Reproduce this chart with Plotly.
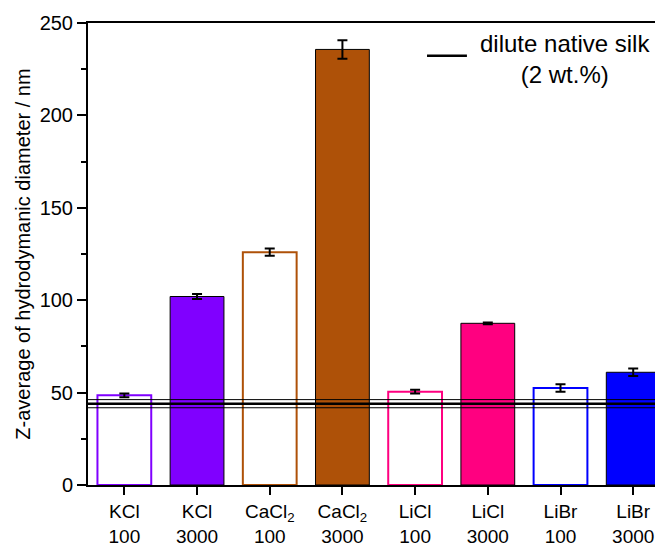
import plotly.graph_objects as go

# ---- data ----
salts = ["KCl", "KCl", "CaCl<sub>2</sub>", "CaCl<sub>2</sub>", "LiCl", "LiCl", "LiBr", "LiBr"]
conc = ["100", "3000", "100", "3000", "100", "3000", "100", "3000"]
z_avg = [48.5, 102, 126, 235.7, 50.5, 87.5, 52.5, 61]
z_err = [1.0, 1.3, 2.0, 5.0, 1.0, 0.5, 2.0, 2.0]
colors = ["#8000FF", "#8000FF", "#AE5108", "#AE5108", "#FF0080", "#FF0080", "#0000FF", "#0000FF"]
filled = [False, True, False, True, False, True, False, True]
silk_mean = 44.0
silk_sd = 2.2
y_ticks = [0, 50, 100, 150, 200, 250]

labels = [f"{s}<br>{c}" for s, c in zip(salts, conc)]
xpos = list(range(len(labels)))

FONT = "Liberation Sans, Arial, sans-serif"

fig = go.Figure()
fig.add_trace(go.Bar(
    x=xpos,
    y=z_avg,
    width=0.74,
    marker=dict(
        color=[c if f else "white" for c, f in zip(colors, filled)],
        line=dict(color=["black" if f else c for c, f in zip(colors, filled)],
                  width=[1 if f else 2 for f in filled]),
    ),
    error_y=dict(type="data", array=z_err, color="black", thickness=2, width=5),
    showlegend=False,
))

# native silk reference lines
fig.add_shape(type="line", xref="x domain", x0=0, x1=1, yref="y",
              y0=silk_mean, y1=silk_mean, line=dict(color="black", width=2.5))
for v in (silk_mean - silk_sd, silk_mean + silk_sd):
    fig.add_shape(type="line", xref="x domain", x0=0, x1=1, yref="y",
                  y0=v, y1=v, line=dict(color="black", width=1))

# legend
fig.add_shape(type="line", xref="paper", yref="paper", x0=0.5896, x1=0.659,
              y0=0.929, y1=0.929, line=dict(color="black", width=2.5))
fig.add_annotation(xref="paper", yref="paper", x=0.83, y=0.923,
                   xanchor="center", yanchor="middle",
                   text="dilute native silk<br>(2 wt.%)", showarrow=False,
                   align="center", font=dict(family=FONT, size=24, color="black"))

fig.update_layout(
    width=655, height=539,
    margin=dict(l=80, r=0, t=15, b=58),
    plot_bgcolor="white", paper_bgcolor="white",
    font=dict(family=FONT, size=19, color="black"),
)
fig.update_xaxes(
    range=[-0.5, 7.41], tickmode="array", tickvals=xpos, ticktext=labels,
    showline=True, linecolor="black", linewidth=2, mirror=True,
    ticks="outside", ticklen=8, tickwidth=2, tickcolor="black",
    showgrid=False, zeroline=False,
    tickfont=dict(family=FONT, size=19, color="black"),
)
fig.update_yaxes(
    range=[0, 250], tickmode="array", tickvals=y_ticks,
    showline=True, linecolor="black", linewidth=2, mirror=False,
    ticks="outside", ticklen=9, tickwidth=2, tickcolor="black",
    minor=dict(dtick=25, ticks="outside", ticklen=5, tickwidth=2, tickcolor="black", showgrid=False),
    showgrid=False, zeroline=False,
    title=dict(text="Z-average of hydrodymanic diameter / nm",
               font=dict(family=FONT, size=20, color="black"), standoff=4),
    tickfont=dict(family=FONT, size=20, color="black"),
)

fig.write_html("out.html")
